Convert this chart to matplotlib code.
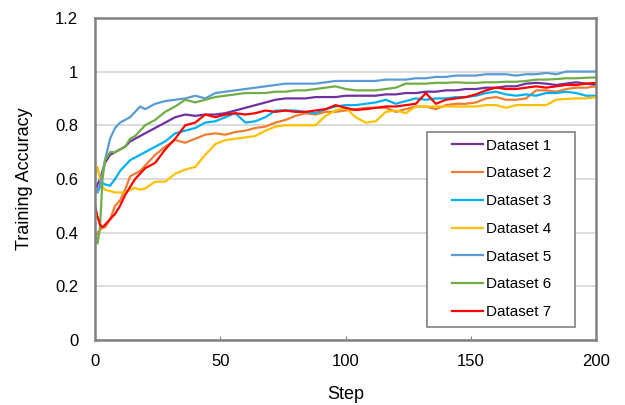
import matplotlib.pyplot as plt
from matplotlib.patches import Rectangle

plt.rcParams['font.family'] = ['Liberation Sans', 'DejaVu Sans']

# sampled training steps
steps = [0, 1, 2, 3, 4, 6, 8, 10, 12, 14, 16, 18,
         20, 24, 28, 32, 36, 40, 44, 48, 52, 56, 60, 64, 68, 72, 76, 80,
         84, 88, 92, 96, 100, 104, 108, 112, 116, 120, 124, 128, 132, 136,
         140, 144, 148, 152, 156, 160, 164, 168, 172, 176, 180, 184, 188,
         192, 196, 200]

dataset1 = [0.55, 0.58, 0.60, 0.63, 0.66, 0.69, 0.70, 0.71, 0.72, 0.74, 0.75, 0.76,
            0.77, 0.79, 0.81, 0.83, 0.84, 0.835, 0.84, 0.84, 0.845, 0.855, 0.865, 0.875,
            0.885, 0.895, 0.90, 0.90, 0.90, 0.905, 0.905, 0.905, 0.91, 0.91, 0.91, 0.91,
            0.915, 0.915, 0.92, 0.92, 0.925, 0.925, 0.93, 0.93, 0.935, 0.935, 0.94, 0.94,
            0.945, 0.945, 0.955, 0.958, 0.955, 0.95, 0.955, 0.96, 0.955, 0.95]
dataset2 = [0.38, 0.40, 0.41, 0.42, 0.42, 0.45, 0.50, 0.52, 0.56, 0.61, 0.62, 0.63,
            0.65, 0.69, 0.72, 0.745, 0.735, 0.75, 0.765, 0.77, 0.765, 0.775, 0.78, 0.79,
            0.795, 0.81, 0.82, 0.835, 0.845, 0.84, 0.85, 0.85, 0.855, 0.86, 0.865, 0.865,
            0.865, 0.85, 0.86, 0.87, 0.87, 0.86, 0.875, 0.88, 0.88, 0.885, 0.90, 0.905,
            0.895, 0.895, 0.90, 0.93, 0.93, 0.925, 0.935, 0.94, 0.94, 0.945]
dataset3 = [0.57, 0.55, 0.57, 0.585, 0.58, 0.575, 0.60, 0.63, 0.65, 0.67, 0.68, 0.69,
            0.70, 0.72, 0.74, 0.77, 0.78, 0.79, 0.81, 0.815, 0.83, 0.845, 0.81, 0.815,
            0.83, 0.855, 0.855, 0.855, 0.85, 0.845, 0.86, 0.87, 0.875, 0.875, 0.88, 0.885,
            0.895, 0.88, 0.89, 0.90, 0.895, 0.90, 0.90, 0.905, 0.905, 0.91, 0.92, 0.925,
            0.915, 0.91, 0.915, 0.91, 0.92, 0.92, 0.925, 0.92, 0.91, 0.91]
dataset4 = [0.61, 0.645, 0.60, 0.57, 0.56, 0.555, 0.55, 0.55, 0.55, 0.56, 0.567, 0.56,
            0.565, 0.59, 0.59, 0.62, 0.635, 0.645, 0.69, 0.73, 0.745, 0.75, 0.755, 0.76,
            0.78, 0.795, 0.80, 0.80, 0.80, 0.80, 0.835, 0.855, 0.865, 0.83, 0.81, 0.815,
            0.85, 0.855, 0.845, 0.87, 0.87, 0.87, 0.87, 0.87, 0.87, 0.87, 0.875, 0.875,
            0.865, 0.875, 0.875, 0.875, 0.875, 0.895, 0.898, 0.90, 0.90, 0.905]
dataset5 = [0.57, 0.55, 0.58, 0.62, 0.67, 0.75, 0.79, 0.81, 0.82, 0.83, 0.85, 0.87,
            0.86, 0.88, 0.89, 0.895, 0.90, 0.91, 0.90, 0.92, 0.925, 0.93, 0.935, 0.94,
            0.945, 0.95, 0.955, 0.955, 0.955, 0.955, 0.96, 0.965, 0.965, 0.965, 0.965, 0.965,
            0.97, 0.97, 0.97, 0.975, 0.975, 0.98, 0.98, 0.985, 0.985, 0.985, 0.99, 0.99,
            0.99, 0.985, 0.99, 0.99, 0.995, 0.99, 1.0, 1.0, 1.0, 1.0]
dataset6 = [0.40, 0.36, 0.42, 0.60, 0.67, 0.70, 0.70, 0.71, 0.72, 0.75, 0.76, 0.78,
            0.80, 0.82, 0.85, 0.87, 0.895, 0.885, 0.895, 0.905, 0.91, 0.915, 0.92, 0.92,
            0.92, 0.925, 0.925, 0.93, 0.93, 0.935, 0.94, 0.945, 0.935, 0.93, 0.93, 0.93,
            0.935, 0.94, 0.955, 0.955, 0.955, 0.958, 0.958, 0.96, 0.958, 0.958, 0.96, 0.96,
            0.962, 0.962, 0.965, 0.97, 0.97, 0.972, 0.975, 0.975, 0.977, 0.978]
dataset7 = [0.50, 0.46, 0.43, 0.42, 0.43, 0.45, 0.47, 0.50, 0.54, 0.57, 0.60, 0.62,
            0.64, 0.66, 0.71, 0.75, 0.80, 0.81, 0.84, 0.83, 0.84, 0.845, 0.84, 0.845,
            0.855, 0.85, 0.855, 0.85, 0.85, 0.855, 0.86, 0.875, 0.865, 0.857, 0.86, 0.865,
            0.87, 0.87, 0.875, 0.88, 0.92, 0.88, 0.895, 0.90, 0.905, 0.915, 0.93, 0.94,
            0.935, 0.935, 0.94, 0.945, 0.94, 0.945, 0.95, 0.95, 0.955, 0.958]

labels = ['Dataset 1', 'Dataset 2', 'Dataset 3', 'Dataset 4',
          'Dataset 5', 'Dataset 6', 'Dataset 7']
colors = ['#7030A0', '#ED7D31', '#00B0F0', '#FFC000',
          '#5B9BD5', '#70AD47', '#FF0000']
series = [dataset1, dataset2, dataset3, dataset4, dataset5, dataset6, dataset7]

fig = plt.figure(figsize=(6.25, 4.05), dpi=100)
ax = fig.add_axes([0.152, 0.16, 0.802, 0.796])

for vals, lab, col in zip(series, labels, colors):
    ax.plot(steps, vals, color=col, lw=1.6, label=lab)

ax.set_xlim(0, 200)
ax.set_ylim(0, 1.2)
ax.set_xticks([0, 50, 100, 150, 200])
ax.set_yticks([0, 0.2, 0.4, 0.6, 0.8, 1.0, 1.2])
ax.set_yticklabels(['0', '0.2', '0.4', '0.6', '0.8', '1', '1.2'])
ax.grid(axis='y', color='#D9D9D9', lw=1.3)
ax.set_axisbelow(True)
for sp in ax.spines.values():
    sp.set_color('#808080')
    sp.set_linewidth(1.8)
ax.tick_params(axis='x', direction='in', length=3, color='#808080', labelsize=12, pad=10)
ax.tick_params(axis='y', length=0, labelsize=12, pad=12)

ax.set_xlabel('Step', fontsize=13, labelpad=12)
ax.set_ylabel('Training Accuracy', fontsize=13, labelpad=16)

# legend box drawn separately (Excel style, items centred in a wider frame)
box = Rectangle((0.663, 0.040), 0.295, 0.606, transform=ax.transAxes,
                facecolor='white', edgecolor='#808080', lw=1.2, zorder=5)
ax.add_patch(box)
leg = ax.legend(loc='upper left', bbox_to_anchor=(0.7126, 0.625), fontsize=11,
                frameon=False, handlelength=2.0, handletextpad=0.2,
                labelspacing=0.9, borderpad=0, borderaxespad=0)
leg.set_zorder(6)

plt.savefig('out.png', dpi=100)
plt.close()
